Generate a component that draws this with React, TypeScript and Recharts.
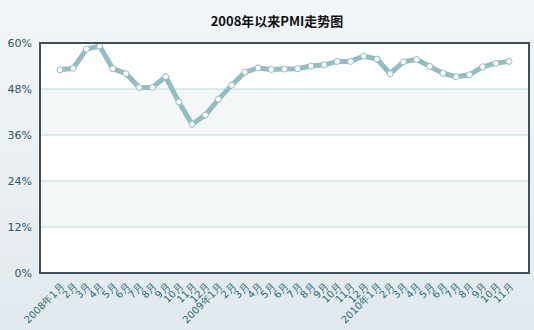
import { LineChart, Line, XAxis, YAxis, CartesianGrid } from 'recharts'

const months = [
  '2008年1月', '2月', '3月', '4月', '5月', '6月', '7月', '8月', '9月', '10月', '11月', '12月',
  '2009年1月', '2月', '3月', '4月', '5月', '6月', '7月', '8月', '9月', '10月', '11月', '12月',
  '2010年1月', '2月', '3月', '4月', '5月', '6月', '7月', '8月', '9月', '10月', '11月',
]

const pmi = [
  53.0, 53.4, 58.4, 59.2, 53.3, 52.0, 48.4, 48.4, 51.2, 44.6, 38.8, 41.2,
  45.3, 49.0, 52.4, 53.5, 53.1, 53.2, 53.3, 54.0, 54.3, 55.2, 55.2, 56.6,
  55.8, 52.0, 55.1, 55.7, 53.9, 52.1, 51.2, 51.7, 53.8, 54.7, 55.2,
]

const yTicks = [0, 12, 24, 36, 48, 60]

const data = months.map((m, i) => ({ month: m, pmi: pmi[i] }))

const MonthTick = (props: any) => {
  const { x, y, payload } = props
  return (
    <g transform={`translate(${x},${y})`}>
      <text
        x={0}
        y={0}
        dx={-1}
        dy={8}
        textAnchor="end"
        transform="rotate(-45)"
        fontSize={10}
        fontFamily="DejaVu Sans, sans-serif"
        fill="#1f6e78"
      >
        {payload.value}
      </text>
    </g>
  )
}

export default function App() {
  return (
    <div
      style={{
        position: 'absolute',
        left: 0,
        top: 0,
        width: 534,
        height: 330,
        background: 'linear-gradient(#f2f6f9, #e2e9ee)',
      }}
    >
      <div
        style={{
          position: 'absolute',
          left: 0,
          width: 554,
          top: 11,
          textAlign: 'center',
          fontFamily: '"Noto Sans CJK SC", sans-serif',
          fontWeight: 'bold',
          fontSize: 13,
          color: '#111',
        }}
      >
        2008年以来PMI走势图
      </div>
      <LineChart width={534} height={330} data={data} margin={{ top: 43, right: 6, bottom: 0, left: 0 }}>
        <CartesianGrid
          vertical={false}
          stroke="#bcd6d8"
          fill="#ffffff"
          horizontalFill={['#ffffff', '#f3f7f8']}
        />
        <XAxis
          dataKey="month"
          interval={0}
          height={57}
          padding={{ left: 20, right: 19 }}
          tick={<MonthTick />}
          tickLine={false}
          axisLine={false}
        />
        <YAxis
          domain={[0, 60]}
          ticks={yTicks}
          width={40}
          tickFormatter={(v) => `${v}%`}
          tick={{ fontSize: 11, fill: '#2b5866', fontFamily: 'DejaVu Sans, sans-serif' }}
          tickLine={false}
          axisLine={false}
        />
        <Line
          type="linear"
          dataKey="pmi"
          stroke="#93bdc2"
          strokeWidth={5}
          dot={{ r: 3, fill: '#ffffff', stroke: '#93bdc2', strokeWidth: 1 }}
          isAnimationActive={false}
        />
      </LineChart>
      <div
        style={{
          position: 'absolute',
          left: 39,
          top: 42,
          width: 487,
          height: 228,
          border: '2px solid #3e505b',
          pointerEvents: 'none',
        }}
      />
    </div>
  )
}
